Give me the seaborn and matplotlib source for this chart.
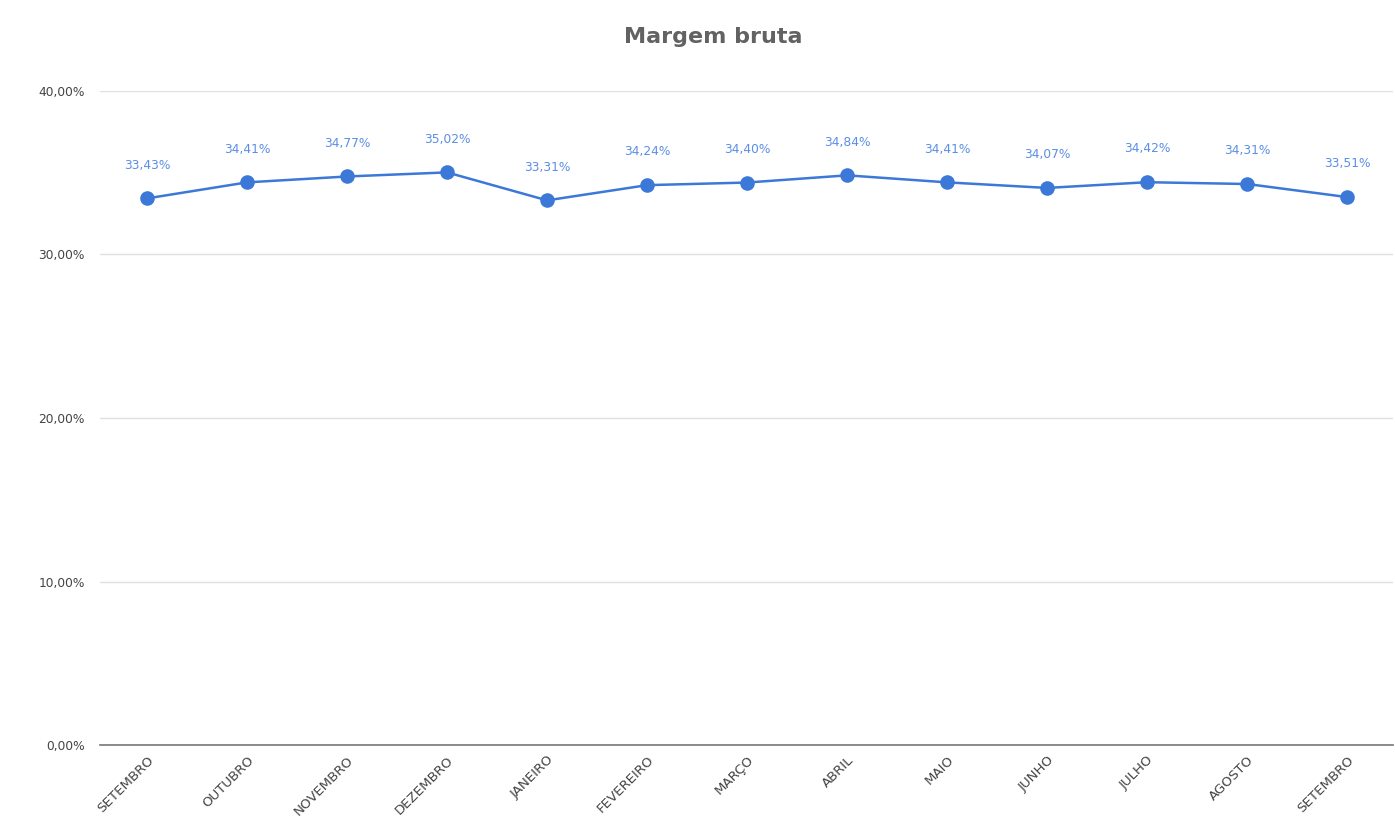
import matplotlib
matplotlib.use("Agg")
import matplotlib.pyplot as plt
import matplotlib.transforms as mtransforms
import seaborn as sns
import pandas as pd
from matplotlib.ticker import FuncFormatter, MultipleLocator

meses = ["SETEMBRO", "OUTUBRO", "NOVEMBRO", "DEZEMBRO", "JANEIRO", "FEVEREIRO",
         "MARÇO", "ABRIL", "MAIO", "JUNHO", "JULHO", "AGOSTO", "SETEMBRO"]
margem = [33.43, 34.41, 34.77, 35.02, 33.31, 34.24, 34.40, 34.84, 34.41,
          34.07, 34.42, 34.31, 33.51]

df = pd.DataFrame({"pos": range(len(meses)), "margem": margem})

sns.set_theme(style="white")
plt.rcParams["font.family"] = ["DejaVu Sans"]

fig = plt.figure(figsize=(13.95, 8.33), dpi=100)
ax = fig.add_axes([0.0717, 0.1056, 0.927, 0.7852])

blue = "#3c78d8"
sns.lineplot(data=df, x="pos", y="margem", ax=ax, color=blue, linewidth=1.8,
             marker="o", markersize=10.5, markeredgewidth=0, zorder=3)

def br_pct(v, _=None):
    return f"{v:.2f}".replace(".", ",") + "%"

for i, v in enumerate(margem):
    ax.annotate(br_pct(v), (i, v), xytext=(0, 24), textcoords="offset points",
                ha="center", va="center", fontsize=8.8, color="#5b8ee6")

ax.set_ylim(0, 40)
ax.set_xlim(-0.47, 12.46)
ax.yaxis.set_major_locator(MultipleLocator(10))
ax.yaxis.set_major_formatter(FuncFormatter(br_pct))
ax.set_xticks(range(len(meses)))
ax.set_xticklabels(meses, rotation=45, ha="right", rotation_mode="anchor",
                   fontsize=9.6, color="#444444")
shift = mtransforms.ScaledTranslation(10 / 100, -5 / 100, fig.dpi_scale_trans)
for lbl in ax.get_xticklabels():
    lbl.set_transform(lbl.get_transform() + shift)
ax.tick_params(axis="y", labelsize=8.8, labelcolor="#444444", length=0, pad=11)
ax.tick_params(axis="x", length=0, pad=6)
ax.grid(axis="y", color="#e0e0e0", linewidth=1)
ax.set_axisbelow(True)
for s in ["top", "right", "left"]:
    ax.spines[s].set_visible(False)
ax.spines["bottom"].set_color("#777777")
ax.spines["bottom"].set_linewidth(1.2)
ax.set_xlabel("")
ax.set_ylabel("")

fig.suptitle("Margem bruta", x=0.511, y=0.968, fontsize=16, fontweight="bold",
             color="#626262")

fig.savefig("out.png", dpi=100, facecolor="white")
